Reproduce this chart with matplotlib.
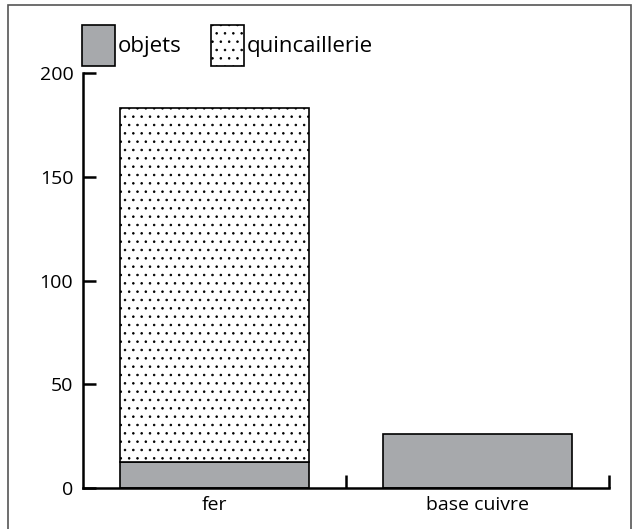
#!/usr/bin/env python3
"""Stacked bars: objets / quincaillerie by material."""
import matplotlib

matplotlib.use("Agg")
import matplotlib.pyplot as plt
from matplotlib.patches import Rectangle

categories = ["fer", "base cuivre"]
objets = [12.5, 26]
quincaillerie = [170.5, 0]
series_labels = ["objets", "quincaillerie"]
yticks = [0, 50, 100, 150, 200]

GREY = "#A7A9AC"


def main() -> None:
    plt.rcParams.update({"font.family": ["Open Sans", "DejaVu Sans"], "font.size": 14,
                         "hatch.linewidth": 0.6})
    W, H = 632, 529
    fig = plt.figure(figsize=(W / 100, H / 100), dpi=100)
    ax = fig.add_axes([83 / W, 1 - 488 / H, (609 - 83) / W, (488 - 73) / H])

    x = list(range(len(categories)))
    b1 = ax.bar(x, objets, width=0.72, color=GREY, edgecolor="black", lw=1.2,
                label=series_labels[0])
    b2 = ax.bar(x, quincaillerie, width=0.72, bottom=objets, color="white",
                edgecolor="black", lw=1.2, hatch="..", label=series_labels[1])
    for p in b2.patches:
        if p.get_height() == 0:
            p.set_visible(False)

    ax.set_xlim(-0.5, 1.5)
    ax.set_ylim(0, 200)
    ax.set_yticks(yticks)
    ax.set_xticks(x)
    ax.set_xticklabels(categories)
    ax.set_xticks([0.5, 1.5], minor=True)
    for s in ("top", "right"):
        ax.spines[s].set_visible(False)
    for s in ("left", "bottom"):
        ax.spines[s].set_linewidth(1.8)
    ax.tick_params(axis="y", direction="in", length=9.5, width=1.8, pad=7)
    ax.tick_params(axis="x", which="major", length=0, pad=6)
    ax.tick_params(axis="x", which="minor", direction="in", length=9.5, width=1.8)

    fig.legend(handles=[b1, b2], labels=series_labels, loc="upper left",
               bbox_to_anchor=(82 / W, 1 - 25 / H), ncol=2, frameon=False,
               fontsize=16, borderpad=0, handlelength=1.5, handleheight=2.45,
               handletextpad=0.12, columnspacing=1.3, borderaxespad=0)

    fig.patches.append(Rectangle((8 / W, -0.05), (631 - 8) / W, 1.05 - 5 / H,
                                 transform=fig.transFigure, fill=False,
                                 edgecolor="#555555", lw=1.2))
    fig.savefig("out.png", dpi=100)
    plt.close(fig)


if __name__ == "__main__":
    main()
